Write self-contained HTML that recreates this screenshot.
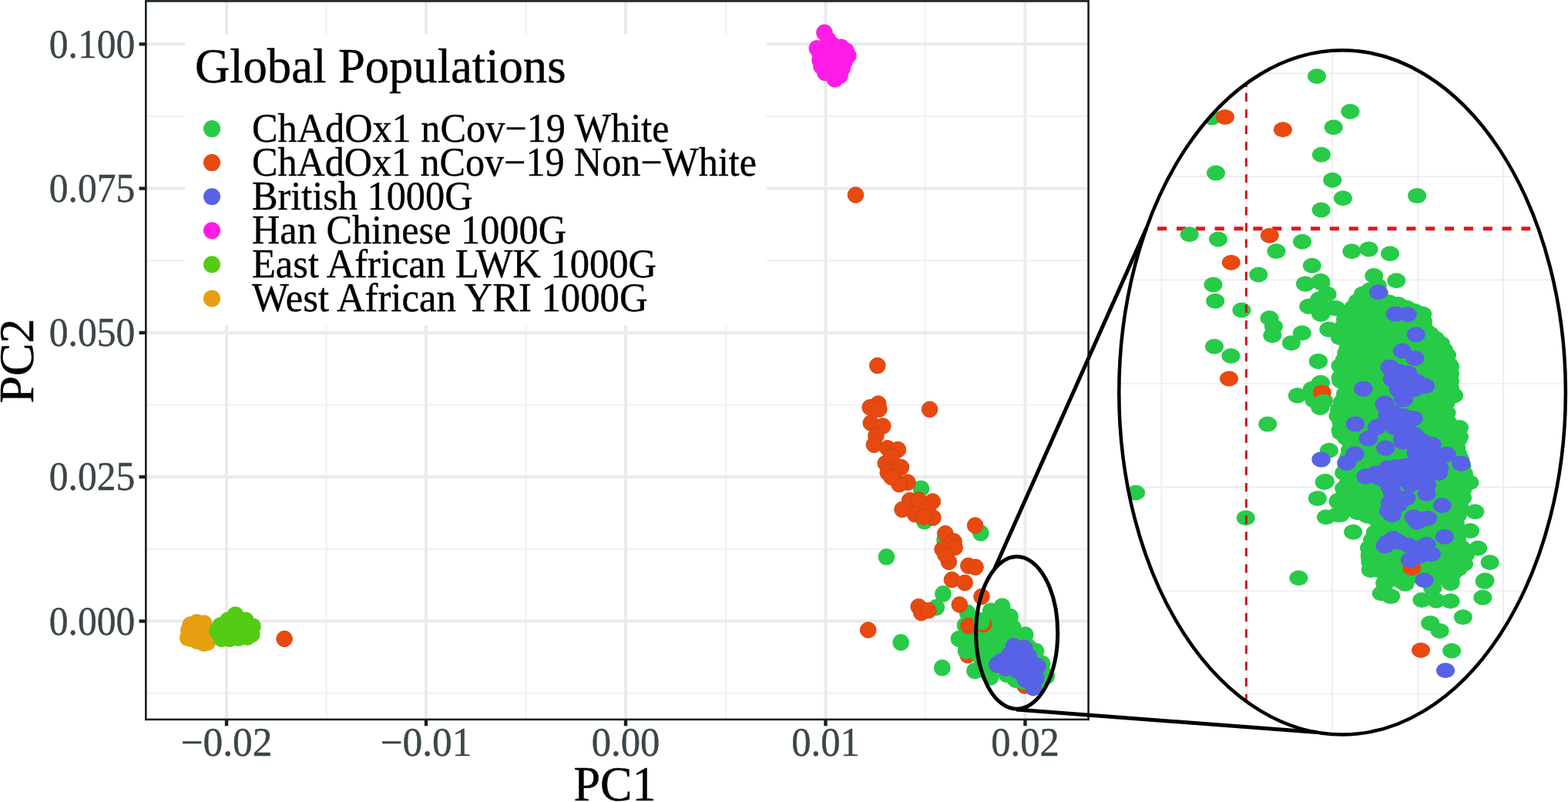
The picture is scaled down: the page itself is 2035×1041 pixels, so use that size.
<!DOCTYPE html>
<html lang="en"><head><meta charset="utf-8"><title>PCA of Global Populations</title>
<style>html,body{margin:0;padding:0;background:#fff}body{width:2035px;height:1041px;overflow:hidden}svg{display:block}text{font-family:"Liberation Serif","Times New Roman",serif;paint-order:stroke fill;stroke-linejoin:round}</style></head><body>
<svg width="2035" height="1041" viewBox="0 0 2035 1041">
<defs><clipPath id="panel"><rect x="189" y="1" width="1224" height="933"/></clipPath>
<clipPath id="lens"><ellipse cx="1742.1" cy="509.4" rx="289.8" ry="444.1"/></clipPath><clipPath id="lensin"><ellipse cx="1742.1" cy="509.4" rx="287" ry="440"/></clipPath></defs>
<rect width="2035" height="1041" fill="#fff"/>
<g clip-path="url(#panel)">
<line x1="423.5" y1="0" x2="423.5" y2="934" stroke="#f1f1f1" stroke-width="2.1"/>
<line x1="682.7" y1="0" x2="682.7" y2="934" stroke="#f1f1f1" stroke-width="2.1"/>
<line x1="942" y1="0" x2="942" y2="934" stroke="#f1f1f1" stroke-width="2.1"/>
<line x1="1201" y1="0" x2="1201" y2="934" stroke="#f1f1f1" stroke-width="2.1"/>
<line x1="189" y1="151" x2="1413" y2="151" stroke="#f1f1f1" stroke-width="2.1"/>
<line x1="189" y1="338.3" x2="1413" y2="338.3" stroke="#f1f1f1" stroke-width="2.1"/>
<line x1="189" y1="525.5" x2="1413" y2="525.5" stroke="#f1f1f1" stroke-width="2.1"/>
<line x1="189" y1="712.6" x2="1413" y2="712.6" stroke="#f1f1f1" stroke-width="2.1"/>
<line x1="189" y1="899.8" x2="1413" y2="899.8" stroke="#f1f1f1" stroke-width="2.1"/>
<line x1="294" y1="0" x2="294" y2="934" stroke="#ebebeb" stroke-width="4"/>
<line x1="553" y1="0" x2="553" y2="934" stroke="#ebebeb" stroke-width="4"/>
<line x1="812" y1="0" x2="812" y2="934" stroke="#ebebeb" stroke-width="4"/>
<line x1="1071.5" y1="0" x2="1071.5" y2="934" stroke="#ebebeb" stroke-width="4"/>
<line x1="1330.5" y1="0" x2="1330.5" y2="934" stroke="#ebebeb" stroke-width="4"/>
<line x1="189" y1="57.3" x2="1413" y2="57.3" stroke="#ebebeb" stroke-width="4"/>
<line x1="189" y1="244.6" x2="1413" y2="244.6" stroke="#ebebeb" stroke-width="4"/>
<line x1="189" y1="431.9" x2="1413" y2="431.9" stroke="#ebebeb" stroke-width="4"/>
<line x1="189" y1="619" x2="1413" y2="619" stroke="#ebebeb" stroke-width="4"/>
<line x1="189" y1="806.3" x2="1413" y2="806.3" stroke="#ebebeb" stroke-width="4"/>
<rect x="240" y="44.5" width="754.5" height="377.5" fill="#fff"/>
<g fill="#e6a00f"><circle cx="247.3" cy="810.7" r="10.8"/><circle cx="255.3" cy="807.8" r="10.8"/><circle cx="264.6" cy="809.0" r="10.8"/><circle cx="243.8" cy="828.0" r="10.8"/><circle cx="264.6" cy="835.0" r="10.8"/><circle cx="269.2" cy="833.8" r="10.8"/><circle cx="248.4" cy="829.2" r="10.8"/><circle cx="257.6" cy="821.1" r="10.8"/><circle cx="245.0" cy="818.0" r="10.8"/><circle cx="256.0" cy="832.0" r="10.8"/><circle cx="268.0" cy="821.0" r="10.8"/><circle cx="270.0" cy="827.0" r="10.8"/><circle cx="266.0" cy="815.0" r="10.8"/></g>
<g fill="#54cc14"><circle cx="305.5" cy="798.0" r="10.8"/><circle cx="281.8" cy="818.8" r="10.8"/><circle cx="287.6" cy="829.2" r="10.8"/><circle cx="292.2" cy="810.7" r="10.8"/><circle cx="318.7" cy="805.0" r="10.8"/><circle cx="328.0" cy="813.0" r="10.8"/><circle cx="326.8" cy="823.4" r="10.8"/><circle cx="309.5" cy="828.0" r="10.8"/><circle cx="298.0" cy="829.2" r="10.8"/><circle cx="321.0" cy="826.9" r="10.8"/><circle cx="303.7" cy="815.3" r="10.8"/><circle cx="315.0" cy="815.0" r="10.8"/><circle cx="286.0" cy="812.0" r="10.8"/><circle cx="296.0" cy="805.0" r="10.8"/><circle cx="312.0" cy="808.0" r="10.8"/><circle cx="322.0" cy="818.0" r="10.8"/><circle cx="300.0" cy="822.0" r="10.8"/></g>
<g fill="#e8490f" stroke="#cf430f" stroke-width="0.9"><circle cx="1330.0" cy="890.0" r="10.350000000000001"/><circle cx="1256.0" cy="850.5" r="10.350000000000001"/></g>
<g fill="#27cb48"><circle cx="1195.4" cy="634.2" r="10.8"/><circle cx="1199.7" cy="676.5" r="10.8"/><circle cx="1272.8" cy="691.8" r="10.8"/><circle cx="1150.5" cy="722.8" r="10.8"/><circle cx="1226.0" cy="701.0" r="10.8"/><circle cx="1223.9" cy="770.8" r="10.8"/><circle cx="1215.3" cy="788.4" r="10.8"/><circle cx="1169.2" cy="833.9" r="10.8"/><circle cx="1222.8" cy="866.8" r="10.8"/><circle cx="1255.6" cy="795.3" r="10.8"/><circle cx="1252.5" cy="811.5" r="10.8"/><circle cx="1244.5" cy="829.2" r="10.8"/><circle cx="1253.5" cy="844.5" r="10.8"/><circle cx="1265.0" cy="870.7" r="10.8"/><circle cx="1285.7" cy="878.8" r="10.8"/><circle cx="1280.0" cy="859.0" r="10.8"/><circle cx="1300.7" cy="787.0" r="10.8"/><circle cx="1285.7" cy="793.0" r="10.8"/><circle cx="1311.0" cy="800.4" r="10.8"/><circle cx="1330.7" cy="824.0" r="10.8"/><circle cx="1344.5" cy="845.3" r="10.8"/><circle cx="1352.6" cy="861.5" r="10.8"/><circle cx="1358.3" cy="877.6" r="10.8"/><circle cx="1346.8" cy="888.0" r="10.8"/><circle cx="1318.0" cy="882.2" r="10.8"/><circle cx="1306.5" cy="875.3" r="10.8"/><circle cx="1270.0" cy="805.0" r="10.8"/><circle cx="1285.0" cy="805.0" r="10.8"/><circle cx="1300.0" cy="805.0" r="10.8"/><circle cx="1270.0" cy="820.0" r="10.8"/><circle cx="1285.0" cy="820.0" r="10.8"/><circle cx="1300.0" cy="820.0" r="10.8"/><circle cx="1315.0" cy="815.0" r="10.8"/><circle cx="1265.0" cy="835.0" r="10.8"/><circle cx="1280.0" cy="835.0" r="10.8"/><circle cx="1295.0" cy="835.0" r="10.8"/><circle cx="1310.0" cy="830.0" r="10.8"/><circle cx="1270.0" cy="850.0" r="10.8"/><circle cx="1285.0" cy="850.0" r="10.8"/><circle cx="1300.0" cy="848.0" r="10.8"/><circle cx="1275.0" cy="862.0" r="10.8"/><circle cx="1290.0" cy="865.0" r="10.8"/><circle cx="1325.0" cy="832.0" r="10.8"/><circle cx="1335.0" cy="840.0" r="10.8"/><circle cx="1345.0" cy="870.0" r="10.8"/><circle cx="1330.0" cy="885.0" r="10.8"/><circle cx="1258.0" cy="825.0" r="10.8"/><circle cx="1262.0" cy="838.0" r="10.8"/><circle cx="1278.0" cy="870.0" r="10.8"/></g>
<g fill="#e8490f" stroke="#cf430f" stroke-width="0.9"><circle cx="1110.5" cy="253.0" r="10.350000000000001"/><circle cx="369.1" cy="829.2" r="10.350000000000001"/><circle cx="1138.8" cy="474.6" r="10.350000000000001"/><circle cx="1206.6" cy="531.4" r="10.350000000000001"/><circle cx="1139.8" cy="524.0" r="10.350000000000001"/><circle cx="1129.2" cy="528.8" r="10.350000000000001"/><circle cx="1140.9" cy="531.1" r="10.350000000000001"/><circle cx="1130.3" cy="549.0" r="10.350000000000001"/><circle cx="1145.8" cy="553.0" r="10.350000000000001"/><circle cx="1136.9" cy="565.7" r="10.350000000000001"/><circle cx="1134.4" cy="577.2" r="10.350000000000001"/><circle cx="1151.9" cy="581.8" r="10.350000000000001"/><circle cx="1165.4" cy="583.6" r="10.350000000000001"/><circle cx="1149.3" cy="601.4" r="10.350000000000001"/><circle cx="1169.5" cy="606.5" r="10.350000000000001"/><circle cx="1157.6" cy="592.2" r="10.350000000000001"/><circle cx="1152.2" cy="613.4" r="10.350000000000001"/><circle cx="1159.9" cy="618.0" r="10.350000000000001"/><circle cx="1178.0" cy="626.1" r="10.350000000000001"/><circle cx="1166.9" cy="628.6" r="10.350000000000001"/><circle cx="1156.8" cy="619.2" r="10.350000000000001"/><circle cx="1180.7" cy="649.5" r="10.350000000000001"/><circle cx="1192.2" cy="648.9" r="10.350000000000001"/><circle cx="1210.3" cy="650.9" r="10.350000000000001"/><circle cx="1171.0" cy="661.3" r="10.350000000000001"/><circle cx="1187.6" cy="667.6" r="10.350000000000001"/><circle cx="1210.9" cy="671.9" r="10.350000000000001"/><circle cx="1203.7" cy="660.7" r="10.350000000000001"/><circle cx="1198.0" cy="671.0" r="10.350000000000001"/><circle cx="1265.6" cy="682.0" r="10.350000000000001"/><circle cx="1226.8" cy="692.6" r="10.350000000000001"/><circle cx="1238.0" cy="702.7" r="10.350000000000001"/><circle cx="1239.1" cy="710.7" r="10.350000000000001"/><circle cx="1223.1" cy="713.0" r="10.350000000000001"/><circle cx="1231.4" cy="729.2" r="10.350000000000001"/><circle cx="1226.8" cy="720.0" r="10.350000000000001"/><circle cx="1256.8" cy="734.4" r="10.350000000000001"/><circle cx="1266.0" cy="736.1" r="10.350000000000001"/><circle cx="1235.4" cy="752.5" r="10.350000000000001"/><circle cx="1252.2" cy="756.4" r="10.350000000000001"/><circle cx="1274.0" cy="774.4" r="10.350000000000001"/><circle cx="1192.2" cy="787.5" r="10.350000000000001"/><circle cx="1195.7" cy="795.3" r="10.350000000000001"/><circle cx="1204.9" cy="792.4" r="10.350000000000001"/><circle cx="1245.3" cy="784.8" r="10.350000000000001"/><circle cx="1126.7" cy="817.8" r="10.350000000000001"/><circle cx="1276.6" cy="810.3" r="10.350000000000001"/><circle cx="1257.0" cy="812.5" r="10.350000000000001"/></g>
<g fill="#27cb48"><circle cx="1273.8" cy="806.8" r="10.8"/></g>
<g fill="#5862e6"><circle cx="1315.7" cy="838.8" r="10.8"/><circle cx="1329.5" cy="841.3" r="10.8"/><circle cx="1293.8" cy="862.6" r="10.8"/><circle cx="1335.3" cy="852.2" r="10.8"/><circle cx="1346.8" cy="864.9" r="10.8"/><circle cx="1320.3" cy="870.7" r="10.8"/><circle cx="1337.6" cy="877.6" r="10.8"/><circle cx="1341.0" cy="892.6" r="10.8"/><circle cx="1307.6" cy="859.2" r="10.8"/><circle cx="1323.7" cy="854.6" r="10.8"/><circle cx="1330.7" cy="882.2" r="10.8"/><circle cx="1305.0" cy="867.0" r="10.8"/><circle cx="1320.0" cy="860.0" r="10.8"/><circle cx="1333.0" cy="866.0" r="10.8"/><circle cx="1310.0" cy="850.0" r="10.8"/><circle cx="1322.0" cy="846.0" r="10.8"/><circle cx="1345.0" cy="880.0" r="10.8"/><circle cx="1300.0" cy="858.0" r="10.8"/><circle cx="1315.0" cy="864.0" r="10.8"/><circle cx="1328.0" cy="872.0" r="10.8"/><circle cx="1338.0" cy="886.0" r="10.8"/></g>
<g fill="#ff1ce6"><circle cx="1070.0" cy="42.3" r="10.8"/><circle cx="1060.4" cy="62.7" r="10.8"/><circle cx="1091.7" cy="61.2" r="10.8"/><circle cx="1100.8" cy="72.2" r="10.8"/><circle cx="1064.1" cy="78.1" r="10.8"/><circle cx="1083.6" cy="102.8" r="10.8"/><circle cx="1071.0" cy="94.4" r="10.8"/><circle cx="1093.1" cy="88.5" r="10.8"/><circle cx="1077.0" cy="73.7" r="10.8"/><circle cx="1080.0" cy="58.0" r="10.8"/><circle cx="1088.0" cy="78.0" r="10.8"/><circle cx="1076.0" cy="88.0" r="10.8"/><circle cx="1068.0" cy="70.0" r="10.8"/><circle cx="1096.0" cy="80.0" r="10.8"/><circle cx="1085.0" cy="95.0" r="10.8"/><circle cx="1075.0" cy="52.0" r="10.8"/><circle cx="1098.0" cy="66.0" r="10.8"/><circle cx="1066.0" cy="86.0" r="10.8"/><circle cx="1090.0" cy="98.0" r="10.8"/><circle cx="1064.0" cy="70.0" r="10.8"/></g>
</g>
<rect x="189.3" y="1.4" width="1223.3" height="932.5" fill="none" stroke="#172021" stroke-width="2.6"/>
<line x1="180.5" y1="57.3" x2="189" y2="57.3" stroke="#172021" stroke-width="4.4"/>
<line x1="180.5" y1="244.6" x2="189" y2="244.6" stroke="#172021" stroke-width="4.4"/>
<line x1="180.5" y1="431.9" x2="189" y2="431.9" stroke="#172021" stroke-width="4.4"/>
<line x1="180.5" y1="619" x2="189" y2="619" stroke="#172021" stroke-width="4.4"/>
<line x1="180.5" y1="806.3" x2="189" y2="806.3" stroke="#172021" stroke-width="4.4"/>
<line x1="294" y1="934" x2="294" y2="942.3" stroke="#172021" stroke-width="4.4"/>
<line x1="553" y1="934" x2="553" y2="942.3" stroke="#172021" stroke-width="4.4"/>
<line x1="812" y1="934" x2="812" y2="942.3" stroke="#172021" stroke-width="4.4"/>
<line x1="1071.5" y1="934" x2="1071.5" y2="942.3" stroke="#172021" stroke-width="4.4"/>
<line x1="1330.5" y1="934" x2="1330.5" y2="942.3" stroke="#172021" stroke-width="4.4"/>
<text x="175.2" y="74.6" font-size="52.5" text-anchor="end" textLength="111.4" lengthAdjust="spacingAndGlyphs" fill="#3c4649" stroke="#3c4649" stroke-width="0.4">0.100</text>
<text x="175.2" y="261.9" font-size="52.5" text-anchor="end" textLength="111.4" lengthAdjust="spacingAndGlyphs" fill="#3c4649" stroke="#3c4649" stroke-width="0.4">0.075</text>
<text x="175.2" y="449.2" font-size="52.5" text-anchor="end" textLength="111.4" lengthAdjust="spacingAndGlyphs" fill="#3c4649" stroke="#3c4649" stroke-width="0.4">0.050</text>
<text x="175.2" y="636.3" font-size="52.5" text-anchor="end" textLength="111.4" lengthAdjust="spacingAndGlyphs" fill="#3c4649" stroke="#3c4649" stroke-width="0.4">0.025</text>
<text x="175.2" y="823.6" font-size="52.5" text-anchor="end" textLength="111.4" lengthAdjust="spacingAndGlyphs" fill="#3c4649" stroke="#3c4649" stroke-width="0.4">0.000</text>
<text x="294" y="981.2" font-size="52" text-anchor="middle" textLength="119.0" lengthAdjust="spacingAndGlyphs" fill="#3c4649" stroke="#3c4649" stroke-width="0.4">−0.02</text>
<text x="553" y="981.2" font-size="52" text-anchor="middle" textLength="119.0" lengthAdjust="spacingAndGlyphs" fill="#3c4649" stroke="#3c4649" stroke-width="0.4">−0.01</text>
<text x="812" y="981.2" font-size="52" text-anchor="middle" textLength="88.7" lengthAdjust="spacingAndGlyphs" fill="#3c4649" stroke="#3c4649" stroke-width="0.4">0.00</text>
<text x="1071.5" y="981.2" font-size="52" text-anchor="middle" textLength="88.7" lengthAdjust="spacingAndGlyphs" fill="#3c4649" stroke="#3c4649" stroke-width="0.4">0.01</text>
<text x="1330.5" y="981.2" font-size="52" text-anchor="middle" textLength="88.7" lengthAdjust="spacingAndGlyphs" fill="#3c4649" stroke="#3c4649" stroke-width="0.4">0.02</text>
<text x="798" y="1039.2" font-size="63" text-anchor="middle" textLength="107.0" lengthAdjust="spacingAndGlyphs" fill="#000" stroke="#000" stroke-width="0.5">PC1</text>
<g transform="translate(43,468.5) rotate(-90)">
<text x="0" y="0.0" font-size="63" text-anchor="middle" textLength="110.0" lengthAdjust="spacingAndGlyphs" fill="#000" stroke="#000" stroke-width="0.5">PC2</text>
</g>
<text x="253" y="107.0" font-size="64" text-anchor="start" textLength="481.5" lengthAdjust="spacingAndGlyphs" fill="#000" stroke="#000" stroke-width="0.5">Global Populations</text>
<circle cx="275" cy="167.1" r="11" fill="#27cb48"/>
<text x="327" y="183.9" font-size="52" text-anchor="start" textLength="541.5" lengthAdjust="spacingAndGlyphs" fill="#000" stroke="#000" stroke-width="0.4">ChAdOx1 nCov−19 White</text>
<circle cx="275" cy="211.1" r="11" fill="#e8490f"/>
<text x="327" y="227.9" font-size="52" text-anchor="start" textLength="655.0" lengthAdjust="spacingAndGlyphs" fill="#000" stroke="#000" stroke-width="0.4">ChAdOx1 nCov−19 Non−White</text>
<circle cx="275" cy="255.2" r="11" fill="#5862e6"/>
<text x="327" y="272.0" font-size="52" text-anchor="start" textLength="286.5" lengthAdjust="spacingAndGlyphs" fill="#000" stroke="#000" stroke-width="0.4">British 1000G</text>
<circle cx="275" cy="299.2" r="11" fill="#ff1ce6"/>
<text x="327" y="316.1" font-size="52" text-anchor="start" textLength="408.0" lengthAdjust="spacingAndGlyphs" fill="#000" stroke="#000" stroke-width="0.4">Han Chinese 1000G</text>
<circle cx="275" cy="343.3" r="11" fill="#54cc14"/>
<text x="327" y="360.1" font-size="52" text-anchor="start" textLength="525.0" lengthAdjust="spacingAndGlyphs" fill="#000" stroke="#000" stroke-width="0.4">East African LWK 1000G</text>
<circle cx="275" cy="387.4" r="11" fill="#e6a00f"/>
<text x="327" y="404.2" font-size="52" text-anchor="start" textLength="513.5" lengthAdjust="spacingAndGlyphs" fill="#000" stroke="#000" stroke-width="0.4">West African YRI 1000G</text>
<g clip-path="url(#lens)">
<rect x="1440" y="50" width="600" height="920" fill="#fff"/>
<g clip-path="url(#lensin)" stroke="#ebecec" stroke-width="1.7">
<line x1="1507.4" y1="50" x2="1507.4" y2="970"/>
<line x1="1618.3" y1="50" x2="1618.3" y2="970"/>
<line x1="1729.2" y1="50" x2="1729.2" y2="970"/>
<line x1="1840.2" y1="50" x2="1840.2" y2="970"/>
<line x1="1951.2" y1="50" x2="1951.2" y2="970"/>
<line x1="1440" y1="95.1" x2="2040" y2="95.1"/>
<line x1="1440" y1="229.2" x2="2040" y2="229.2"/>
<line x1="1440" y1="363.3" x2="2040" y2="363.3"/>
<line x1="1440" y1="498" x2="2040" y2="498"/>
<line x1="1440" y1="632.3" x2="2040" y2="632.3"/>
<line x1="1440" y1="767" x2="2040" y2="767"/>
<line x1="1440" y1="900.5" x2="2040" y2="900.5"/>
</g>
<line x1="1502.1" y1="296.7" x2="1986.2" y2="296.7" stroke="#e3141e" stroke-width="5" stroke-dasharray="12.1 12.76"/>
<g fill="#e8490f"></g>
<g fill="#27cb48"><ellipse cx="1709.0" cy="99.0" rx="12" ry="10"/><ellipse cx="1752.4" cy="144.8" rx="12" ry="10"/><ellipse cx="1730.7" cy="165.3" rx="12" ry="10"/><ellipse cx="1714.9" cy="200.8" rx="12" ry="10"/><ellipse cx="1578.0" cy="224.6" rx="12" ry="10"/><ellipse cx="1729.2" cy="233.8" rx="12" ry="10"/><ellipse cx="1742.9" cy="257.3" rx="12" ry="10"/><ellipse cx="1839.1" cy="254.1" rx="12" ry="10"/><ellipse cx="1714.6" cy="272.5" rx="12" ry="10"/><ellipse cx="1572.9" cy="152.5" rx="12" ry="10"/><ellipse cx="1543.7" cy="304.3" rx="12" ry="10"/><ellipse cx="1581.0" cy="310.5" rx="12" ry="10"/><ellipse cx="1690.0" cy="313.8" rx="12" ry="10"/><ellipse cx="1656.4" cy="326.1" rx="12" ry="10"/><ellipse cx="1754.3" cy="326.3" rx="12" ry="10"/><ellipse cx="1776.4" cy="323.4" rx="12" ry="10"/><ellipse cx="1804.0" cy="329.2" rx="12" ry="10"/><ellipse cx="1702.8" cy="344.7" rx="12" ry="10"/><ellipse cx="1633.3" cy="356.5" rx="12" ry="10"/><ellipse cx="1783.2" cy="358.0" rx="12" ry="10"/><ellipse cx="1574.5" cy="369.5" rx="12" ry="10"/><ellipse cx="1577.2" cy="390.7" rx="12" ry="10"/><ellipse cx="1611.4" cy="402.5" rx="12" ry="10"/><ellipse cx="1694.1" cy="368.4" rx="12" ry="10"/><ellipse cx="1714.4" cy="366.9" rx="12" ry="10"/><ellipse cx="1722.0" cy="381.5" rx="12" ry="10"/><ellipse cx="1711.3" cy="390.7" rx="12" ry="10"/><ellipse cx="1699.0" cy="397.6" rx="12" ry="10"/><ellipse cx="1714.4" cy="407.6" rx="12" ry="10"/><ellipse cx="1731.3" cy="399.9" rx="12" ry="10"/><ellipse cx="1647.5" cy="413.0" rx="12" ry="10"/><ellipse cx="1652.9" cy="423.7" rx="12" ry="10"/><ellipse cx="1651.3" cy="435.3" rx="12" ry="10"/><ellipse cx="1689.8" cy="432.2" rx="12" ry="10"/><ellipse cx="1675.9" cy="445.3" rx="12" ry="10"/><ellipse cx="1724.3" cy="427.6" rx="12" ry="10"/><ellipse cx="1576.0" cy="449.8" rx="12" ry="10"/><ellipse cx="1597.5" cy="462.0" rx="12" ry="10"/><ellipse cx="1739.0" cy="438.3" rx="12" ry="10"/><ellipse cx="1812.2" cy="364.2" rx="12" ry="10"/><ellipse cx="1787.6" cy="370.7" rx="12" ry="10"/><ellipse cx="1814.5" cy="395.3" rx="12" ry="10"/><ellipse cx="1846.0" cy="407.6" rx="12" ry="10"/><ellipse cx="1847.6" cy="426.0" rx="12" ry="10"/><ellipse cx="1769.2" cy="381.5" rx="12" ry="10"/><ellipse cx="1762.3" cy="390.7" rx="12" ry="10"/><ellipse cx="1787.6" cy="395.3" rx="12" ry="10"/><ellipse cx="1733.8" cy="399.9" rx="12" ry="10"/><ellipse cx="1867.6" cy="446.0" rx="12" ry="10"/><ellipse cx="1875.2" cy="458.3" rx="12" ry="10"/><ellipse cx="1741.5" cy="438.3" rx="12" ry="10"/><ellipse cx="1749.2" cy="453.7" rx="12" ry="10"/><ellipse cx="1711.0" cy="468.9" rx="12" ry="10"/><ellipse cx="1645.2" cy="550.6" rx="12" ry="10"/><ellipse cx="1683.9" cy="513.5" rx="12" ry="10"/><ellipse cx="1702.4" cy="507.3" rx="12" ry="10"/><ellipse cx="1713.3" cy="498.0" rx="12" ry="10"/><ellipse cx="1705.5" cy="519.7" rx="12" ry="10"/><ellipse cx="1713.3" cy="528.9" rx="12" ry="10"/><ellipse cx="1739.6" cy="474.8" rx="12" ry="10"/><ellipse cx="1739.6" cy="490.2" rx="12" ry="10"/><ellipse cx="1736.5" cy="539.8" rx="12" ry="10"/><ellipse cx="1739.6" cy="558.4" rx="12" ry="10"/><ellipse cx="1724.9" cy="584.7" rx="12" ry="10"/><ellipse cx="1474.1" cy="639.5" rx="12" ry="10"/><ellipse cx="1616.8" cy="672.3" rx="12" ry="10"/><ellipse cx="1685.4" cy="750.2" rx="12" ry="10"/><ellipse cx="1718.7" cy="625.9" rx="12" ry="10"/><ellipse cx="1709.9" cy="646.9" rx="12" ry="10"/><ellipse cx="1721.0" cy="671.2" rx="12" ry="10"/><ellipse cx="1736.5" cy="651.1" rx="12" ry="10"/><ellipse cx="1739.6" cy="668.1" rx="12" ry="10"/><ellipse cx="1744.2" cy="613.9" rx="12" ry="10"/><ellipse cx="1744.2" cy="634.0" rx="12" ry="10"/><ellipse cx="1756.1" cy="690.6" rx="12" ry="10"/><ellipse cx="1907.3" cy="626.3" rx="12" ry="10"/><ellipse cx="1914.3" cy="664.2" rx="12" ry="10"/><ellipse cx="1908.1" cy="689.0" rx="12" ry="10"/><ellipse cx="1918.1" cy="711.5" rx="12" ry="10"/><ellipse cx="1933.6" cy="730.0" rx="12" ry="10"/><ellipse cx="1927.4" cy="753.3" rx="12" ry="10"/><ellipse cx="1882.5" cy="754.8" rx="12" ry="10"/><ellipse cx="1797.4" cy="756.3" rx="12" ry="10"/><ellipse cx="1778.8" cy="739.3" rx="12" ry="10"/><ellipse cx="1777.3" cy="711.5" rx="12" ry="10"/><ellipse cx="1785.0" cy="691.3" rx="12" ry="10"/><ellipse cx="1786.6" cy="674.3" rx="12" ry="10"/><ellipse cx="1761.8" cy="665.0" rx="12" ry="10"/><ellipse cx="1737.0" cy="649.5" rx="12" ry="10"/><ellipse cx="1735.5" cy="668.1" rx="12" ry="10"/><ellipse cx="1720.0" cy="624.8" rx="12" ry="10"/><ellipse cx="1746.3" cy="634.1" rx="12" ry="10"/><ellipse cx="1746.3" cy="612.4" rx="12" ry="10"/><ellipse cx="1819.0" cy="754.8" rx="12" ry="10"/><ellipse cx="1802.0" cy="739.3" rx="12" ry="10"/><ellipse cx="1890.3" cy="726.9" rx="12" ry="10"/><ellipse cx="1901.1" cy="714.5" rx="12" ry="10"/><ellipse cx="1890.3" cy="669.7" rx="12" ry="10"/><ellipse cx="1898.0" cy="646.4" rx="12" ry="10"/><ellipse cx="1890.3" cy="623.2" rx="12" ry="10"/><ellipse cx="1926.7" cy="754.7" rx="12" ry="10"/><ellipse cx="1924.3" cy="775.6" rx="12" ry="10"/><ellipse cx="1882.5" cy="757.0" rx="12" ry="10"/><ellipse cx="1797.4" cy="757.8" rx="12" ry="10"/><ellipse cx="1823.7" cy="757.8" rx="12" ry="10"/><ellipse cx="1792.8" cy="770.2" rx="12" ry="10"/><ellipse cx="1805.1" cy="774.1" rx="12" ry="10"/><ellipse cx="1845.4" cy="778.7" rx="12" ry="10"/><ellipse cx="1864.0" cy="779.5" rx="12" ry="10"/><ellipse cx="1882.5" cy="780.2" rx="12" ry="10"/><ellipse cx="1859.3" cy="763.2" rx="12" ry="10"/><ellipse cx="1867.1" cy="749.3" rx="12" ry="10"/><ellipse cx="1898.8" cy="801.1" rx="12" ry="10"/><ellipse cx="1856.2" cy="808.9" rx="12" ry="10"/><ellipse cx="1868.6" cy="818.9" rx="12" ry="10"/><ellipse cx="1884.1" cy="844.8" rx="12" ry="10"/><ellipse cx="1778.8" cy="740.0" rx="12" ry="10"/><ellipse cx="1802.0" cy="738.5" rx="12" ry="10"/><ellipse cx="1874.8" cy="459.3" rx="12" ry="10"/><ellipse cx="1881.0" cy="479.4" rx="12" ry="10"/><ellipse cx="1881.0" cy="502.6" rx="12" ry="10"/><ellipse cx="1886.9" cy="513.5" rx="12" ry="10"/><ellipse cx="1874.8" cy="524.3" rx="12" ry="10"/><ellipse cx="1877.9" cy="547.5" rx="12" ry="10"/><ellipse cx="1892.6" cy="555.3" rx="12" ry="10"/><ellipse cx="1893.4" cy="567.6" rx="12" ry="10"/><ellipse cx="1890.3" cy="581.6" rx="12" ry="10"/><ellipse cx="1894.9" cy="595.5" rx="12" ry="10"/><ellipse cx="1880.6" cy="473.2" rx="12" ry="10"/><ellipse cx="1880.6" cy="482.7" rx="12" ry="10"/><ellipse cx="1880.6" cy="504.7" rx="12" ry="10"/><ellipse cx="1844.4" cy="407.2" rx="12" ry="10"/><ellipse cx="1813.8" cy="395.4" rx="12" ry="10"/><ellipse cx="1724.9" cy="427.6" rx="12" ry="10"/><ellipse cx="1710.8" cy="469.0" rx="12" ry="10"/><ellipse cx="1713.9" cy="496.8" rx="12" ry="10"/><ellipse cx="1702.9" cy="504.7" rx="12" ry="10"/><ellipse cx="1684.0" cy="513.3" rx="12" ry="10"/><ellipse cx="1698.2" cy="397.7" rx="12" ry="10"/><ellipse cx="1732.8" cy="400.1" rx="12" ry="10"/><ellipse cx="1713.9" cy="407.2" rx="12" ry="10"/><ellipse cx="1712.3" cy="388.3" rx="12" ry="10"/><ellipse cx="1722.6" cy="382.0" rx="12" ry="10"/><ellipse cx="1694.3" cy="368.6" rx="12" ry="10"/><ellipse cx="1713.9" cy="364.7" rx="12" ry="10"/><ellipse cx="1717.9" cy="519.7" rx="12" ry="10"/><ellipse cx="1778.0" cy="382.0" rx="12" ry="10"/><ellipse cx="1790.0" cy="382.0" rx="12" ry="10"/><ellipse cx="1772.0" cy="391.0" rx="12" ry="10"/><ellipse cx="1784.0" cy="391.0" rx="12" ry="10"/><ellipse cx="1796.0" cy="391.0" rx="12" ry="10"/><ellipse cx="1766.0" cy="400.0" rx="12" ry="10"/><ellipse cx="1778.0" cy="400.0" rx="12" ry="10"/><ellipse cx="1790.0" cy="400.0" rx="12" ry="10"/><ellipse cx="1802.0" cy="400.0" rx="12" ry="10"/><ellipse cx="1814.0" cy="400.0" rx="12" ry="10"/><ellipse cx="1826.0" cy="400.0" rx="12" ry="10"/><ellipse cx="1760.0" cy="409.0" rx="12" ry="10"/><ellipse cx="1772.0" cy="409.0" rx="12" ry="10"/><ellipse cx="1784.0" cy="409.0" rx="12" ry="10"/><ellipse cx="1796.0" cy="409.0" rx="12" ry="10"/><ellipse cx="1808.0" cy="409.0" rx="12" ry="10"/><ellipse cx="1820.0" cy="409.0" rx="12" ry="10"/><ellipse cx="1832.0" cy="409.0" rx="12" ry="10"/><ellipse cx="1844.0" cy="409.0" rx="12" ry="10"/><ellipse cx="1754.0" cy="418.0" rx="12" ry="10"/><ellipse cx="1766.0" cy="418.0" rx="12" ry="10"/><ellipse cx="1778.0" cy="418.0" rx="12" ry="10"/><ellipse cx="1790.0" cy="418.0" rx="12" ry="10"/><ellipse cx="1802.0" cy="418.0" rx="12" ry="10"/><ellipse cx="1814.0" cy="418.0" rx="12" ry="10"/><ellipse cx="1826.0" cy="418.0" rx="12" ry="10"/><ellipse cx="1838.0" cy="418.0" rx="12" ry="10"/><ellipse cx="1748.0" cy="427.0" rx="12" ry="10"/><ellipse cx="1760.0" cy="427.0" rx="12" ry="10"/><ellipse cx="1772.0" cy="427.0" rx="12" ry="10"/><ellipse cx="1784.0" cy="427.0" rx="12" ry="10"/><ellipse cx="1796.0" cy="427.0" rx="12" ry="10"/><ellipse cx="1808.0" cy="427.0" rx="12" ry="10"/><ellipse cx="1820.0" cy="427.0" rx="12" ry="10"/><ellipse cx="1832.0" cy="427.0" rx="12" ry="10"/><ellipse cx="1844.0" cy="427.0" rx="12" ry="10"/><ellipse cx="1754.0" cy="436.0" rx="12" ry="10"/><ellipse cx="1766.0" cy="436.0" rx="12" ry="10"/><ellipse cx="1778.0" cy="436.0" rx="12" ry="10"/><ellipse cx="1790.0" cy="436.0" rx="12" ry="10"/><ellipse cx="1802.0" cy="436.0" rx="12" ry="10"/><ellipse cx="1814.0" cy="436.0" rx="12" ry="10"/><ellipse cx="1826.0" cy="436.0" rx="12" ry="10"/><ellipse cx="1838.0" cy="436.0" rx="12" ry="10"/><ellipse cx="1850.0" cy="436.0" rx="12" ry="10"/><ellipse cx="1760.0" cy="445.0" rx="12" ry="10"/><ellipse cx="1772.0" cy="445.0" rx="12" ry="10"/><ellipse cx="1784.0" cy="445.0" rx="12" ry="10"/><ellipse cx="1796.0" cy="445.0" rx="12" ry="10"/><ellipse cx="1808.0" cy="445.0" rx="12" ry="10"/><ellipse cx="1820.0" cy="445.0" rx="12" ry="10"/><ellipse cx="1832.0" cy="445.0" rx="12" ry="10"/><ellipse cx="1844.0" cy="445.0" rx="12" ry="10"/><ellipse cx="1856.0" cy="445.0" rx="12" ry="10"/><ellipse cx="1868.0" cy="445.0" rx="12" ry="10"/><ellipse cx="1754.0" cy="454.0" rx="12" ry="10"/><ellipse cx="1766.0" cy="454.0" rx="12" ry="10"/><ellipse cx="1778.0" cy="454.0" rx="12" ry="10"/><ellipse cx="1790.0" cy="454.0" rx="12" ry="10"/><ellipse cx="1802.0" cy="454.0" rx="12" ry="10"/><ellipse cx="1814.0" cy="454.0" rx="12" ry="10"/><ellipse cx="1826.0" cy="454.0" rx="12" ry="10"/><ellipse cx="1838.0" cy="454.0" rx="12" ry="10"/><ellipse cx="1850.0" cy="454.0" rx="12" ry="10"/><ellipse cx="1862.0" cy="454.0" rx="12" ry="10"/><ellipse cx="1874.0" cy="454.0" rx="12" ry="10"/><ellipse cx="1748.0" cy="463.0" rx="12" ry="10"/><ellipse cx="1760.0" cy="463.0" rx="12" ry="10"/><ellipse cx="1772.0" cy="463.0" rx="12" ry="10"/><ellipse cx="1784.0" cy="463.0" rx="12" ry="10"/><ellipse cx="1796.0" cy="463.0" rx="12" ry="10"/><ellipse cx="1808.0" cy="463.0" rx="12" ry="10"/><ellipse cx="1820.0" cy="463.0" rx="12" ry="10"/><ellipse cx="1832.0" cy="463.0" rx="12" ry="10"/><ellipse cx="1844.0" cy="463.0" rx="12" ry="10"/><ellipse cx="1856.0" cy="463.0" rx="12" ry="10"/><ellipse cx="1868.0" cy="463.0" rx="12" ry="10"/><ellipse cx="1754.0" cy="472.0" rx="12" ry="10"/><ellipse cx="1766.0" cy="472.0" rx="12" ry="10"/><ellipse cx="1778.0" cy="472.0" rx="12" ry="10"/><ellipse cx="1790.0" cy="472.0" rx="12" ry="10"/><ellipse cx="1802.0" cy="472.0" rx="12" ry="10"/><ellipse cx="1814.0" cy="472.0" rx="12" ry="10"/><ellipse cx="1826.0" cy="472.0" rx="12" ry="10"/><ellipse cx="1838.0" cy="472.0" rx="12" ry="10"/><ellipse cx="1850.0" cy="472.0" rx="12" ry="10"/><ellipse cx="1862.0" cy="472.0" rx="12" ry="10"/><ellipse cx="1874.0" cy="472.0" rx="12" ry="10"/><ellipse cx="1748.0" cy="481.0" rx="12" ry="10"/><ellipse cx="1760.0" cy="481.0" rx="12" ry="10"/><ellipse cx="1772.0" cy="481.0" rx="12" ry="10"/><ellipse cx="1784.0" cy="481.0" rx="12" ry="10"/><ellipse cx="1796.0" cy="481.0" rx="12" ry="10"/><ellipse cx="1808.0" cy="481.0" rx="12" ry="10"/><ellipse cx="1820.0" cy="481.0" rx="12" ry="10"/><ellipse cx="1832.0" cy="481.0" rx="12" ry="10"/><ellipse cx="1844.0" cy="481.0" rx="12" ry="10"/><ellipse cx="1856.0" cy="481.0" rx="12" ry="10"/><ellipse cx="1868.0" cy="481.0" rx="12" ry="10"/><ellipse cx="1880.0" cy="481.0" rx="12" ry="10"/><ellipse cx="1742.0" cy="490.0" rx="12" ry="10"/><ellipse cx="1754.0" cy="490.0" rx="12" ry="10"/><ellipse cx="1766.0" cy="490.0" rx="12" ry="10"/><ellipse cx="1778.0" cy="490.0" rx="12" ry="10"/><ellipse cx="1790.0" cy="490.0" rx="12" ry="10"/><ellipse cx="1802.0" cy="490.0" rx="12" ry="10"/><ellipse cx="1814.0" cy="490.0" rx="12" ry="10"/><ellipse cx="1826.0" cy="490.0" rx="12" ry="10"/><ellipse cx="1838.0" cy="490.0" rx="12" ry="10"/><ellipse cx="1850.0" cy="490.0" rx="12" ry="10"/><ellipse cx="1862.0" cy="490.0" rx="12" ry="10"/><ellipse cx="1874.0" cy="490.0" rx="12" ry="10"/><ellipse cx="1748.0" cy="499.0" rx="12" ry="10"/><ellipse cx="1760.0" cy="499.0" rx="12" ry="10"/><ellipse cx="1772.0" cy="499.0" rx="12" ry="10"/><ellipse cx="1784.0" cy="499.0" rx="12" ry="10"/><ellipse cx="1796.0" cy="499.0" rx="12" ry="10"/><ellipse cx="1808.0" cy="499.0" rx="12" ry="10"/><ellipse cx="1820.0" cy="499.0" rx="12" ry="10"/><ellipse cx="1832.0" cy="499.0" rx="12" ry="10"/><ellipse cx="1844.0" cy="499.0" rx="12" ry="10"/><ellipse cx="1856.0" cy="499.0" rx="12" ry="10"/><ellipse cx="1868.0" cy="499.0" rx="12" ry="10"/><ellipse cx="1880.0" cy="499.0" rx="12" ry="10"/><ellipse cx="1754.0" cy="508.0" rx="12" ry="10"/><ellipse cx="1766.0" cy="508.0" rx="12" ry="10"/><ellipse cx="1778.0" cy="508.0" rx="12" ry="10"/><ellipse cx="1790.0" cy="508.0" rx="12" ry="10"/><ellipse cx="1802.0" cy="508.0" rx="12" ry="10"/><ellipse cx="1814.0" cy="508.0" rx="12" ry="10"/><ellipse cx="1826.0" cy="508.0" rx="12" ry="10"/><ellipse cx="1838.0" cy="508.0" rx="12" ry="10"/><ellipse cx="1850.0" cy="508.0" rx="12" ry="10"/><ellipse cx="1862.0" cy="508.0" rx="12" ry="10"/><ellipse cx="1874.0" cy="508.0" rx="12" ry="10"/><ellipse cx="1748.0" cy="517.0" rx="12" ry="10"/><ellipse cx="1760.0" cy="517.0" rx="12" ry="10"/><ellipse cx="1772.0" cy="517.0" rx="12" ry="10"/><ellipse cx="1784.0" cy="517.0" rx="12" ry="10"/><ellipse cx="1796.0" cy="517.0" rx="12" ry="10"/><ellipse cx="1808.0" cy="517.0" rx="12" ry="10"/><ellipse cx="1820.0" cy="517.0" rx="12" ry="10"/><ellipse cx="1832.0" cy="517.0" rx="12" ry="10"/><ellipse cx="1844.0" cy="517.0" rx="12" ry="10"/><ellipse cx="1856.0" cy="517.0" rx="12" ry="10"/><ellipse cx="1868.0" cy="517.0" rx="12" ry="10"/><ellipse cx="1880.0" cy="517.0" rx="12" ry="10"/><ellipse cx="1742.0" cy="526.0" rx="12" ry="10"/><ellipse cx="1754.0" cy="526.0" rx="12" ry="10"/><ellipse cx="1766.0" cy="526.0" rx="12" ry="10"/><ellipse cx="1778.0" cy="526.0" rx="12" ry="10"/><ellipse cx="1790.0" cy="526.0" rx="12" ry="10"/><ellipse cx="1802.0" cy="526.0" rx="12" ry="10"/><ellipse cx="1814.0" cy="526.0" rx="12" ry="10"/><ellipse cx="1826.0" cy="526.0" rx="12" ry="10"/><ellipse cx="1838.0" cy="526.0" rx="12" ry="10"/><ellipse cx="1850.0" cy="526.0" rx="12" ry="10"/><ellipse cx="1862.0" cy="526.0" rx="12" ry="10"/><ellipse cx="1874.0" cy="526.0" rx="12" ry="10"/><ellipse cx="1748.0" cy="535.0" rx="12" ry="10"/><ellipse cx="1760.0" cy="535.0" rx="12" ry="10"/><ellipse cx="1772.0" cy="535.0" rx="12" ry="10"/><ellipse cx="1784.0" cy="535.0" rx="12" ry="10"/><ellipse cx="1796.0" cy="535.0" rx="12" ry="10"/><ellipse cx="1808.0" cy="535.0" rx="12" ry="10"/><ellipse cx="1820.0" cy="535.0" rx="12" ry="10"/><ellipse cx="1832.0" cy="535.0" rx="12" ry="10"/><ellipse cx="1844.0" cy="535.0" rx="12" ry="10"/><ellipse cx="1856.0" cy="535.0" rx="12" ry="10"/><ellipse cx="1868.0" cy="535.0" rx="12" ry="10"/><ellipse cx="1742.0" cy="544.0" rx="12" ry="10"/><ellipse cx="1754.0" cy="544.0" rx="12" ry="10"/><ellipse cx="1766.0" cy="544.0" rx="12" ry="10"/><ellipse cx="1778.0" cy="544.0" rx="12" ry="10"/><ellipse cx="1790.0" cy="544.0" rx="12" ry="10"/><ellipse cx="1802.0" cy="544.0" rx="12" ry="10"/><ellipse cx="1814.0" cy="544.0" rx="12" ry="10"/><ellipse cx="1826.0" cy="544.0" rx="12" ry="10"/><ellipse cx="1838.0" cy="544.0" rx="12" ry="10"/><ellipse cx="1850.0" cy="544.0" rx="12" ry="10"/><ellipse cx="1862.0" cy="544.0" rx="12" ry="10"/><ellipse cx="1874.0" cy="544.0" rx="12" ry="10"/><ellipse cx="1748.0" cy="553.0" rx="12" ry="10"/><ellipse cx="1760.0" cy="553.0" rx="12" ry="10"/><ellipse cx="1772.0" cy="553.0" rx="12" ry="10"/><ellipse cx="1784.0" cy="553.0" rx="12" ry="10"/><ellipse cx="1796.0" cy="553.0" rx="12" ry="10"/><ellipse cx="1808.0" cy="553.0" rx="12" ry="10"/><ellipse cx="1820.0" cy="553.0" rx="12" ry="10"/><ellipse cx="1832.0" cy="553.0" rx="12" ry="10"/><ellipse cx="1844.0" cy="553.0" rx="12" ry="10"/><ellipse cx="1856.0" cy="553.0" rx="12" ry="10"/><ellipse cx="1868.0" cy="553.0" rx="12" ry="10"/><ellipse cx="1880.0" cy="553.0" rx="12" ry="10"/><ellipse cx="1742.0" cy="562.0" rx="12" ry="10"/><ellipse cx="1754.0" cy="562.0" rx="12" ry="10"/><ellipse cx="1766.0" cy="562.0" rx="12" ry="10"/><ellipse cx="1778.0" cy="562.0" rx="12" ry="10"/><ellipse cx="1790.0" cy="562.0" rx="12" ry="10"/><ellipse cx="1802.0" cy="562.0" rx="12" ry="10"/><ellipse cx="1814.0" cy="562.0" rx="12" ry="10"/><ellipse cx="1826.0" cy="562.0" rx="12" ry="10"/><ellipse cx="1838.0" cy="562.0" rx="12" ry="10"/><ellipse cx="1850.0" cy="562.0" rx="12" ry="10"/><ellipse cx="1862.0" cy="562.0" rx="12" ry="10"/><ellipse cx="1874.0" cy="562.0" rx="12" ry="10"/><ellipse cx="1886.0" cy="562.0" rx="12" ry="10"/><ellipse cx="1760.0" cy="571.0" rx="12" ry="10"/><ellipse cx="1772.0" cy="571.0" rx="12" ry="10"/><ellipse cx="1784.0" cy="571.0" rx="12" ry="10"/><ellipse cx="1796.0" cy="571.0" rx="12" ry="10"/><ellipse cx="1808.0" cy="571.0" rx="12" ry="10"/><ellipse cx="1820.0" cy="571.0" rx="12" ry="10"/><ellipse cx="1832.0" cy="571.0" rx="12" ry="10"/><ellipse cx="1844.0" cy="571.0" rx="12" ry="10"/><ellipse cx="1856.0" cy="571.0" rx="12" ry="10"/><ellipse cx="1868.0" cy="571.0" rx="12" ry="10"/><ellipse cx="1880.0" cy="571.0" rx="12" ry="10"/><ellipse cx="1892.0" cy="571.0" rx="12" ry="10"/><ellipse cx="1754.0" cy="580.0" rx="12" ry="10"/><ellipse cx="1766.0" cy="580.0" rx="12" ry="10"/><ellipse cx="1778.0" cy="580.0" rx="12" ry="10"/><ellipse cx="1790.0" cy="580.0" rx="12" ry="10"/><ellipse cx="1802.0" cy="580.0" rx="12" ry="10"/><ellipse cx="1814.0" cy="580.0" rx="12" ry="10"/><ellipse cx="1826.0" cy="580.0" rx="12" ry="10"/><ellipse cx="1838.0" cy="580.0" rx="12" ry="10"/><ellipse cx="1850.0" cy="580.0" rx="12" ry="10"/><ellipse cx="1862.0" cy="580.0" rx="12" ry="10"/><ellipse cx="1874.0" cy="580.0" rx="12" ry="10"/><ellipse cx="1886.0" cy="580.0" rx="12" ry="10"/><ellipse cx="1760.0" cy="589.0" rx="12" ry="10"/><ellipse cx="1772.0" cy="589.0" rx="12" ry="10"/><ellipse cx="1784.0" cy="589.0" rx="12" ry="10"/><ellipse cx="1796.0" cy="589.0" rx="12" ry="10"/><ellipse cx="1808.0" cy="589.0" rx="12" ry="10"/><ellipse cx="1820.0" cy="589.0" rx="12" ry="10"/><ellipse cx="1832.0" cy="589.0" rx="12" ry="10"/><ellipse cx="1844.0" cy="589.0" rx="12" ry="10"/><ellipse cx="1856.0" cy="589.0" rx="12" ry="10"/><ellipse cx="1868.0" cy="589.0" rx="12" ry="10"/><ellipse cx="1880.0" cy="589.0" rx="12" ry="10"/><ellipse cx="1892.0" cy="589.0" rx="12" ry="10"/><ellipse cx="1754.0" cy="598.0" rx="12" ry="10"/><ellipse cx="1766.0" cy="598.0" rx="12" ry="10"/><ellipse cx="1778.0" cy="598.0" rx="12" ry="10"/><ellipse cx="1790.0" cy="598.0" rx="12" ry="10"/><ellipse cx="1802.0" cy="598.0" rx="12" ry="10"/><ellipse cx="1814.0" cy="598.0" rx="12" ry="10"/><ellipse cx="1826.0" cy="598.0" rx="12" ry="10"/><ellipse cx="1838.0" cy="598.0" rx="12" ry="10"/><ellipse cx="1850.0" cy="598.0" rx="12" ry="10"/><ellipse cx="1862.0" cy="598.0" rx="12" ry="10"/><ellipse cx="1874.0" cy="598.0" rx="12" ry="10"/><ellipse cx="1886.0" cy="598.0" rx="12" ry="10"/><ellipse cx="1748.0" cy="607.0" rx="12" ry="10"/><ellipse cx="1760.0" cy="607.0" rx="12" ry="10"/><ellipse cx="1772.0" cy="607.0" rx="12" ry="10"/><ellipse cx="1784.0" cy="607.0" rx="12" ry="10"/><ellipse cx="1796.0" cy="607.0" rx="12" ry="10"/><ellipse cx="1808.0" cy="607.0" rx="12" ry="10"/><ellipse cx="1820.0" cy="607.0" rx="12" ry="10"/><ellipse cx="1832.0" cy="607.0" rx="12" ry="10"/><ellipse cx="1844.0" cy="607.0" rx="12" ry="10"/><ellipse cx="1856.0" cy="607.0" rx="12" ry="10"/><ellipse cx="1868.0" cy="607.0" rx="12" ry="10"/><ellipse cx="1880.0" cy="607.0" rx="12" ry="10"/><ellipse cx="1892.0" cy="607.0" rx="12" ry="10"/><ellipse cx="1754.0" cy="616.0" rx="12" ry="10"/><ellipse cx="1766.0" cy="616.0" rx="12" ry="10"/><ellipse cx="1778.0" cy="616.0" rx="12" ry="10"/><ellipse cx="1790.0" cy="616.0" rx="12" ry="10"/><ellipse cx="1802.0" cy="616.0" rx="12" ry="10"/><ellipse cx="1814.0" cy="616.0" rx="12" ry="10"/><ellipse cx="1826.0" cy="616.0" rx="12" ry="10"/><ellipse cx="1838.0" cy="616.0" rx="12" ry="10"/><ellipse cx="1850.0" cy="616.0" rx="12" ry="10"/><ellipse cx="1862.0" cy="616.0" rx="12" ry="10"/><ellipse cx="1874.0" cy="616.0" rx="12" ry="10"/><ellipse cx="1886.0" cy="616.0" rx="12" ry="10"/><ellipse cx="1898.0" cy="616.0" rx="12" ry="10"/><ellipse cx="1760.0" cy="625.0" rx="12" ry="10"/><ellipse cx="1772.0" cy="625.0" rx="12" ry="10"/><ellipse cx="1784.0" cy="625.0" rx="12" ry="10"/><ellipse cx="1796.0" cy="625.0" rx="12" ry="10"/><ellipse cx="1808.0" cy="625.0" rx="12" ry="10"/><ellipse cx="1820.0" cy="625.0" rx="12" ry="10"/><ellipse cx="1832.0" cy="625.0" rx="12" ry="10"/><ellipse cx="1844.0" cy="625.0" rx="12" ry="10"/><ellipse cx="1856.0" cy="625.0" rx="12" ry="10"/><ellipse cx="1868.0" cy="625.0" rx="12" ry="10"/><ellipse cx="1880.0" cy="625.0" rx="12" ry="10"/><ellipse cx="1892.0" cy="625.0" rx="12" ry="10"/><ellipse cx="1754.0" cy="634.0" rx="12" ry="10"/><ellipse cx="1766.0" cy="634.0" rx="12" ry="10"/><ellipse cx="1778.0" cy="634.0" rx="12" ry="10"/><ellipse cx="1790.0" cy="634.0" rx="12" ry="10"/><ellipse cx="1802.0" cy="634.0" rx="12" ry="10"/><ellipse cx="1814.0" cy="634.0" rx="12" ry="10"/><ellipse cx="1826.0" cy="634.0" rx="12" ry="10"/><ellipse cx="1838.0" cy="634.0" rx="12" ry="10"/><ellipse cx="1850.0" cy="634.0" rx="12" ry="10"/><ellipse cx="1862.0" cy="634.0" rx="12" ry="10"/><ellipse cx="1874.0" cy="634.0" rx="12" ry="10"/><ellipse cx="1886.0" cy="634.0" rx="12" ry="10"/><ellipse cx="1898.0" cy="634.0" rx="12" ry="10"/><ellipse cx="1760.0" cy="643.0" rx="12" ry="10"/><ellipse cx="1772.0" cy="643.0" rx="12" ry="10"/><ellipse cx="1784.0" cy="643.0" rx="12" ry="10"/><ellipse cx="1796.0" cy="643.0" rx="12" ry="10"/><ellipse cx="1808.0" cy="643.0" rx="12" ry="10"/><ellipse cx="1820.0" cy="643.0" rx="12" ry="10"/><ellipse cx="1832.0" cy="643.0" rx="12" ry="10"/><ellipse cx="1844.0" cy="643.0" rx="12" ry="10"/><ellipse cx="1856.0" cy="643.0" rx="12" ry="10"/><ellipse cx="1868.0" cy="643.0" rx="12" ry="10"/><ellipse cx="1880.0" cy="643.0" rx="12" ry="10"/><ellipse cx="1892.0" cy="643.0" rx="12" ry="10"/><ellipse cx="1754.0" cy="652.0" rx="12" ry="10"/><ellipse cx="1766.0" cy="652.0" rx="12" ry="10"/><ellipse cx="1778.0" cy="652.0" rx="12" ry="10"/><ellipse cx="1790.0" cy="652.0" rx="12" ry="10"/><ellipse cx="1802.0" cy="652.0" rx="12" ry="10"/><ellipse cx="1814.0" cy="652.0" rx="12" ry="10"/><ellipse cx="1826.0" cy="652.0" rx="12" ry="10"/><ellipse cx="1838.0" cy="652.0" rx="12" ry="10"/><ellipse cx="1850.0" cy="652.0" rx="12" ry="10"/><ellipse cx="1862.0" cy="652.0" rx="12" ry="10"/><ellipse cx="1874.0" cy="652.0" rx="12" ry="10"/><ellipse cx="1886.0" cy="652.0" rx="12" ry="10"/><ellipse cx="1760.0" cy="661.0" rx="12" ry="10"/><ellipse cx="1772.0" cy="661.0" rx="12" ry="10"/><ellipse cx="1784.0" cy="661.0" rx="12" ry="10"/><ellipse cx="1796.0" cy="661.0" rx="12" ry="10"/><ellipse cx="1808.0" cy="661.0" rx="12" ry="10"/><ellipse cx="1820.0" cy="661.0" rx="12" ry="10"/><ellipse cx="1832.0" cy="661.0" rx="12" ry="10"/><ellipse cx="1844.0" cy="661.0" rx="12" ry="10"/><ellipse cx="1856.0" cy="661.0" rx="12" ry="10"/><ellipse cx="1868.0" cy="661.0" rx="12" ry="10"/><ellipse cx="1880.0" cy="661.0" rx="12" ry="10"/><ellipse cx="1892.0" cy="661.0" rx="12" ry="10"/><ellipse cx="1778.0" cy="670.0" rx="12" ry="10"/><ellipse cx="1790.0" cy="670.0" rx="12" ry="10"/><ellipse cx="1802.0" cy="670.0" rx="12" ry="10"/><ellipse cx="1814.0" cy="670.0" rx="12" ry="10"/><ellipse cx="1826.0" cy="670.0" rx="12" ry="10"/><ellipse cx="1838.0" cy="670.0" rx="12" ry="10"/><ellipse cx="1850.0" cy="670.0" rx="12" ry="10"/><ellipse cx="1862.0" cy="670.0" rx="12" ry="10"/><ellipse cx="1874.0" cy="670.0" rx="12" ry="10"/><ellipse cx="1886.0" cy="670.0" rx="12" ry="10"/><ellipse cx="1796.0" cy="679.0" rx="12" ry="10"/><ellipse cx="1808.0" cy="679.0" rx="12" ry="10"/><ellipse cx="1820.0" cy="679.0" rx="12" ry="10"/><ellipse cx="1832.0" cy="679.0" rx="12" ry="10"/><ellipse cx="1844.0" cy="679.0" rx="12" ry="10"/><ellipse cx="1856.0" cy="679.0" rx="12" ry="10"/><ellipse cx="1868.0" cy="679.0" rx="12" ry="10"/><ellipse cx="1880.0" cy="679.0" rx="12" ry="10"/><ellipse cx="1790.0" cy="688.0" rx="12" ry="10"/><ellipse cx="1802.0" cy="688.0" rx="12" ry="10"/><ellipse cx="1814.0" cy="688.0" rx="12" ry="10"/><ellipse cx="1826.0" cy="688.0" rx="12" ry="10"/><ellipse cx="1838.0" cy="688.0" rx="12" ry="10"/><ellipse cx="1850.0" cy="688.0" rx="12" ry="10"/><ellipse cx="1862.0" cy="688.0" rx="12" ry="10"/><ellipse cx="1874.0" cy="688.0" rx="12" ry="10"/><ellipse cx="1886.0" cy="688.0" rx="12" ry="10"/><ellipse cx="1784.0" cy="697.0" rx="12" ry="10"/><ellipse cx="1796.0" cy="697.0" rx="12" ry="10"/><ellipse cx="1808.0" cy="697.0" rx="12" ry="10"/><ellipse cx="1820.0" cy="697.0" rx="12" ry="10"/><ellipse cx="1832.0" cy="697.0" rx="12" ry="10"/><ellipse cx="1844.0" cy="697.0" rx="12" ry="10"/><ellipse cx="1856.0" cy="697.0" rx="12" ry="10"/><ellipse cx="1868.0" cy="697.0" rx="12" ry="10"/><ellipse cx="1880.0" cy="697.0" rx="12" ry="10"/><ellipse cx="1790.0" cy="706.0" rx="12" ry="10"/><ellipse cx="1802.0" cy="706.0" rx="12" ry="10"/><ellipse cx="1814.0" cy="706.0" rx="12" ry="10"/><ellipse cx="1826.0" cy="706.0" rx="12" ry="10"/><ellipse cx="1838.0" cy="706.0" rx="12" ry="10"/><ellipse cx="1850.0" cy="706.0" rx="12" ry="10"/><ellipse cx="1862.0" cy="706.0" rx="12" ry="10"/><ellipse cx="1874.0" cy="706.0" rx="12" ry="10"/><ellipse cx="1886.0" cy="706.0" rx="12" ry="10"/><ellipse cx="1784.0" cy="715.0" rx="12" ry="10"/><ellipse cx="1796.0" cy="715.0" rx="12" ry="10"/><ellipse cx="1808.0" cy="715.0" rx="12" ry="10"/><ellipse cx="1820.0" cy="715.0" rx="12" ry="10"/><ellipse cx="1832.0" cy="715.0" rx="12" ry="10"/><ellipse cx="1844.0" cy="715.0" rx="12" ry="10"/><ellipse cx="1856.0" cy="715.0" rx="12" ry="10"/><ellipse cx="1868.0" cy="715.0" rx="12" ry="10"/><ellipse cx="1880.0" cy="715.0" rx="12" ry="10"/><ellipse cx="1892.0" cy="715.0" rx="12" ry="10"/><ellipse cx="1778.0" cy="724.0" rx="12" ry="10"/><ellipse cx="1790.0" cy="724.0" rx="12" ry="10"/><ellipse cx="1802.0" cy="724.0" rx="12" ry="10"/><ellipse cx="1814.0" cy="724.0" rx="12" ry="10"/><ellipse cx="1826.0" cy="724.0" rx="12" ry="10"/><ellipse cx="1838.0" cy="724.0" rx="12" ry="10"/><ellipse cx="1850.0" cy="724.0" rx="12" ry="10"/><ellipse cx="1862.0" cy="724.0" rx="12" ry="10"/><ellipse cx="1874.0" cy="724.0" rx="12" ry="10"/><ellipse cx="1886.0" cy="724.0" rx="12" ry="10"/><ellipse cx="1898.0" cy="724.0" rx="12" ry="10"/><ellipse cx="1784.0" cy="733.0" rx="12" ry="10"/><ellipse cx="1796.0" cy="733.0" rx="12" ry="10"/><ellipse cx="1808.0" cy="733.0" rx="12" ry="10"/><ellipse cx="1820.0" cy="733.0" rx="12" ry="10"/><ellipse cx="1832.0" cy="733.0" rx="12" ry="10"/><ellipse cx="1844.0" cy="733.0" rx="12" ry="10"/><ellipse cx="1856.0" cy="733.0" rx="12" ry="10"/><ellipse cx="1868.0" cy="733.0" rx="12" ry="10"/><ellipse cx="1880.0" cy="733.0" rx="12" ry="10"/><ellipse cx="1892.0" cy="733.0" rx="12" ry="10"/><ellipse cx="1814.0" cy="742.0" rx="12" ry="10"/><ellipse cx="1826.0" cy="742.0" rx="12" ry="10"/><ellipse cx="1838.0" cy="742.0" rx="12" ry="10"/><ellipse cx="1850.0" cy="742.0" rx="12" ry="10"/><ellipse cx="1862.0" cy="742.0" rx="12" ry="10"/><ellipse cx="1874.0" cy="742.0" rx="12" ry="10"/><ellipse cx="1886.0" cy="742.0" rx="12" ry="10"/><ellipse cx="1787.6" cy="371.0" rx="12" ry="10"/><ellipse cx="1789.8" cy="380.5" rx="12" ry="10"/><ellipse cx="1792.0" cy="390.0" rx="12" ry="10"/><ellipse cx="1803.2" cy="392.6" rx="12" ry="10"/><ellipse cx="1814.5" cy="395.3" rx="12" ry="10"/><ellipse cx="1825.0" cy="399.5" rx="12" ry="10"/><ellipse cx="1835.5" cy="403.8" rx="12" ry="10"/><ellipse cx="1846.0" cy="408.0" rx="12" ry="10"/><ellipse cx="1847.0" cy="417.0" rx="12" ry="10"/><ellipse cx="1848.0" cy="426.0" rx="12" ry="10"/><ellipse cx="1855.3" cy="432.7" rx="12" ry="10"/><ellipse cx="1862.7" cy="439.3" rx="12" ry="10"/><ellipse cx="1870.0" cy="446.0" rx="12" ry="10"/><ellipse cx="1878.0" cy="461.0" rx="12" ry="10"/><ellipse cx="1882.0" cy="476.0" rx="12" ry="10"/><ellipse cx="1882.0" cy="485.3" rx="12" ry="10"/><ellipse cx="1882.0" cy="494.7" rx="12" ry="10"/><ellipse cx="1882.0" cy="504.0" rx="12" ry="10"/><ellipse cx="1887.0" cy="513.0" rx="12" ry="10"/><ellipse cx="1876.0" cy="524.0" rx="12" ry="10"/><ellipse cx="1877.5" cy="536.0" rx="12" ry="10"/><ellipse cx="1879.0" cy="548.0" rx="12" ry="10"/><ellipse cx="1894.0" cy="555.0" rx="12" ry="10"/><ellipse cx="1894.0" cy="567.0" rx="12" ry="10"/><ellipse cx="1890.0" cy="583.0" rx="12" ry="10"/><ellipse cx="1895.0" cy="597.0" rx="12" ry="10"/><ellipse cx="1897.5" cy="606.0" rx="12" ry="10"/><ellipse cx="1900.0" cy="615.0" rx="12" ry="10"/><ellipse cx="1899.0" cy="625.7" rx="12" ry="10"/><ellipse cx="1898.0" cy="636.3" rx="12" ry="10"/><ellipse cx="1897.0" cy="647.0" rx="12" ry="10"/><ellipse cx="1894.3" cy="658.0" rx="12" ry="10"/><ellipse cx="1891.7" cy="669.0" rx="12" ry="10"/><ellipse cx="1889.0" cy="680.0" rx="12" ry="10"/><ellipse cx="1890.0" cy="690.5" rx="12" ry="10"/><ellipse cx="1891.0" cy="701.0" rx="12" ry="10"/><ellipse cx="1896.5" cy="710.5" rx="12" ry="10"/><ellipse cx="1902.0" cy="720.0" rx="12" ry="10"/><ellipse cx="1900.0" cy="732.0" rx="12" ry="10"/><ellipse cx="1892.5" cy="738.5" rx="12" ry="10"/><ellipse cx="1885.0" cy="745.0" rx="12" ry="10"/><ellipse cx="1875.0" cy="747.5" rx="12" ry="10"/><ellipse cx="1865.0" cy="750.0" rx="12" ry="10"/><ellipse cx="1852.5" cy="749.0" rx="12" ry="10"/><ellipse cx="1840.0" cy="748.0" rx="12" ry="10"/><ellipse cx="1830.0" cy="746.3" rx="12" ry="10"/><ellipse cx="1820.0" cy="744.7" rx="12" ry="10"/><ellipse cx="1810.0" cy="743.0" rx="12" ry="10"/><ellipse cx="1799.7" cy="741.7" rx="12" ry="10"/><ellipse cx="1789.3" cy="740.3" rx="12" ry="10"/><ellipse cx="1779.0" cy="739.0" rx="12" ry="10"/><ellipse cx="1778.3" cy="729.7" rx="12" ry="10"/><ellipse cx="1777.7" cy="720.3" rx="12" ry="10"/><ellipse cx="1777.0" cy="711.0" rx="12" ry="10"/><ellipse cx="1781.0" cy="701.0" rx="12" ry="10"/><ellipse cx="1785.0" cy="691.0" rx="12" ry="10"/><ellipse cx="1787.0" cy="674.0" rx="12" ry="10"/><ellipse cx="1774.5" cy="669.5" rx="12" ry="10"/><ellipse cx="1762.0" cy="665.0" rx="12" ry="10"/><ellipse cx="1756.0" cy="657.5" rx="12" ry="10"/><ellipse cx="1750.0" cy="650.0" rx="12" ry="10"/><ellipse cx="1749.3" cy="639.5" rx="12" ry="10"/><ellipse cx="1748.6" cy="629.0" rx="12" ry="10"/><ellipse cx="1747.0" cy="613.0" rx="12" ry="10"/><ellipse cx="1748.5" cy="603.5" rx="12" ry="10"/><ellipse cx="1750.0" cy="594.0" rx="12" ry="10"/><ellipse cx="1752.0" cy="584.5" rx="12" ry="10"/><ellipse cx="1754.0" cy="575.0" rx="12" ry="10"/><ellipse cx="1747.2" cy="568.5" rx="12" ry="10"/><ellipse cx="1740.5" cy="562.0" rx="12" ry="10"/><ellipse cx="1740.5" cy="548.0" rx="12" ry="10"/><ellipse cx="1738.0" cy="532.0" rx="12" ry="10"/><ellipse cx="1742.0" cy="521.5" rx="12" ry="10"/><ellipse cx="1746.0" cy="511.0" rx="12" ry="10"/><ellipse cx="1740.5" cy="494.5" rx="12" ry="10"/><ellipse cx="1743.0" cy="481.0" rx="12" ry="10"/><ellipse cx="1744.6" cy="467.6" rx="12" ry="10"/><ellipse cx="1747.3" cy="458.3" rx="12" ry="10"/><ellipse cx="1750.0" cy="449.0" rx="12" ry="10"/><ellipse cx="1746.0" cy="440.8" rx="12" ry="10"/><ellipse cx="1742.0" cy="432.6" rx="12" ry="10"/><ellipse cx="1744.0" cy="423.3" rx="12" ry="10"/><ellipse cx="1746.0" cy="414.0" rx="12" ry="10"/><ellipse cx="1751.3" cy="406.3" rx="12" ry="10"/><ellipse cx="1756.7" cy="398.7" rx="12" ry="10"/><ellipse cx="1762.0" cy="391.0" rx="12" ry="10"/><ellipse cx="1769.0" cy="381.5" rx="12" ry="10"/><ellipse cx="1778.3" cy="376.2" rx="12" ry="10"/></g>
<g fill="#e8490f"><ellipse cx="1589.9" cy="151.9" rx="12" ry="10"/><ellipse cx="1664.9" cy="168.3" rx="12" ry="10"/><ellipse cx="1647.8" cy="305.8" rx="12" ry="10"/><ellipse cx="1597.8" cy="340.7" rx="12" ry="10"/><ellipse cx="1595.0" cy="491.5" rx="12" ry="10"/><ellipse cx="1844.0" cy="844.0" rx="12" ry="10"/><ellipse cx="1715.8" cy="509.4" rx="12" ry="10"/><ellipse cx="1832.2" cy="737.3" rx="12" ry="10"/></g>
<g fill="#27cb48"><ellipse cx="1717.5" cy="521.5" rx="12" ry="10"/></g>
<g fill="#5862e6"><ellipse cx="1788.9" cy="379.3" rx="12" ry="10"/><ellipse cx="1810.7" cy="407.6" rx="12" ry="10"/><ellipse cx="1826.8" cy="408.2" rx="12" ry="10"/><ellipse cx="1837.7" cy="434.2" rx="12" ry="10"/><ellipse cx="1819.8" cy="455.5" rx="12" ry="10"/><ellipse cx="1836.4" cy="465.0" rx="12" ry="10"/><ellipse cx="1804.4" cy="477.1" rx="12" ry="10"/><ellipse cx="1826.8" cy="484.8" rx="12" ry="10"/><ellipse cx="1808.2" cy="493.3" rx="12" ry="10"/><ellipse cx="1850.0" cy="501.1" rx="12" ry="10"/><ellipse cx="1769.5" cy="504.5" rx="12" ry="10"/><ellipse cx="1816.0" cy="507.3" rx="12" ry="10"/><ellipse cx="1822.2" cy="518.1" rx="12" ry="10"/><ellipse cx="1796.6" cy="525.1" rx="12" ry="10"/><ellipse cx="1800.5" cy="539.8" rx="12" ry="10"/><ellipse cx="1834.6" cy="542.9" rx="12" ry="10"/><ellipse cx="1819.1" cy="550.6" rx="12" ry="10"/><ellipse cx="1759.0" cy="550.6" rx="12" ry="10"/><ellipse cx="1786.6" cy="555.3" rx="12" ry="10"/><ellipse cx="1775.7" cy="569.2" rx="12" ry="10"/><ellipse cx="1836.1" cy="564.6" rx="12" ry="10"/><ellipse cx="1820.6" cy="573.8" rx="12" ry="10"/><ellipse cx="1798.2" cy="581.6" rx="12" ry="10"/><ellipse cx="1858.5" cy="576.9" rx="12" ry="10"/><ellipse cx="1837.6" cy="587.8" rx="12" ry="10"/><ellipse cx="1758.7" cy="589.3" rx="12" ry="10"/><ellipse cx="1747.9" cy="600.9" rx="12" ry="10"/><ellipse cx="1877.9" cy="590.1" rx="12" ry="10"/><ellipse cx="1859.3" cy="597.1" rx="12" ry="10"/><ellipse cx="1896.5" cy="601.7" rx="12" ry="10"/><ellipse cx="1823.7" cy="604.8" rx="12" ry="10"/><ellipse cx="1802.0" cy="609.4" rx="12" ry="10"/><ellipse cx="1714.8" cy="596.6" rx="12" ry="10"/><ellipse cx="1772.6" cy="618.6" rx="12" ry="10"/><ellipse cx="1800.5" cy="609.3" rx="12" ry="10"/><ellipse cx="1825.3" cy="609.3" rx="12" ry="10"/><ellipse cx="1846.9" cy="612.4" rx="12" ry="10"/><ellipse cx="1867.1" cy="613.9" rx="12" ry="10"/><ellipse cx="1797.4" cy="623.2" rx="12" ry="10"/><ellipse cx="1851.6" cy="631.0" rx="12" ry="10"/><ellipse cx="1806.7" cy="638.7" rx="12" ry="10"/><ellipse cx="1851.6" cy="641.0" rx="12" ry="10"/><ellipse cx="1825.3" cy="646.4" rx="12" ry="10"/><ellipse cx="1803.6" cy="652.6" rx="12" ry="10"/><ellipse cx="1871.7" cy="656.0" rx="12" ry="10"/><ellipse cx="1802.0" cy="663.5" rx="12" ry="10"/><ellipse cx="1806.7" cy="668.1" rx="12" ry="10"/><ellipse cx="1834.6" cy="671.2" rx="12" ry="10"/><ellipse cx="1853.1" cy="672.8" rx="12" ry="10"/><ellipse cx="1839.2" cy="677.4" rx="12" ry="10"/><ellipse cx="1874.8" cy="696.7" rx="12" ry="10"/><ellipse cx="1808.2" cy="699.1" rx="12" ry="10"/><ellipse cx="1797.4" cy="708.4" rx="12" ry="10"/><ellipse cx="1816.0" cy="703.7" rx="12" ry="10"/><ellipse cx="1851.6" cy="706.8" rx="12" ry="10"/><ellipse cx="1837.6" cy="711.5" rx="12" ry="10"/><ellipse cx="1857.8" cy="719.2" rx="12" ry="10"/><ellipse cx="1829.9" cy="726.9" rx="12" ry="10"/><ellipse cx="1848.5" cy="753.3" rx="12" ry="10"/><ellipse cx="1876.0" cy="870.3" rx="12" ry="10"/><ellipse cx="1803.5" cy="476.4" rx="12" ry="10"/><ellipse cx="1827.1" cy="484.2" rx="12" ry="10"/><ellipse cx="1806.7" cy="492.1" rx="12" ry="10"/><ellipse cx="1849.2" cy="500.7" rx="12" ry="10"/><ellipse cx="1817.7" cy="504.7" rx="12" ry="10"/><ellipse cx="1797.3" cy="523.5" rx="12" ry="10"/><ellipse cx="1820.8" cy="517.3" rx="12" ry="10"/><ellipse cx="1803.7" cy="477.0" rx="12" ry="10"/><ellipse cx="1809.1" cy="491.8" rx="12" ry="10"/><ellipse cx="1826.6" cy="485.1" rx="12" ry="10"/><ellipse cx="1825.2" cy="499.9" rx="12" ry="10"/><ellipse cx="1849.4" cy="501.2" rx="12" ry="10"/><ellipse cx="1814.5" cy="505.2" rx="12" ry="10"/><ellipse cx="1821.2" cy="518.7" rx="12" ry="10"/><ellipse cx="1836.0" cy="505.2" rx="12" ry="10"/><ellipse cx="1815.0" cy="482.0" rx="12" ry="10"/><ellipse cx="1838.0" cy="495.0" rx="12" ry="10"/><ellipse cx="1816.0" cy="497.0" rx="12" ry="10"/><ellipse cx="1797.0" cy="525.4" rx="12" ry="10"/><ellipse cx="1801.0" cy="538.9" rx="12" ry="10"/><ellipse cx="1833.3" cy="542.9" rx="12" ry="10"/><ellipse cx="1817.2" cy="548.3" rx="12" ry="10"/><ellipse cx="1787.6" cy="553.6" rx="12" ry="10"/><ellipse cx="1830.6" cy="561.7" rx="12" ry="10"/><ellipse cx="1819.9" cy="569.8" rx="12" ry="10"/><ellipse cx="1836.0" cy="567.1" rx="12" ry="10"/><ellipse cx="1857.5" cy="577.9" rx="12" ry="10"/><ellipse cx="1841.4" cy="583.2" rx="12" ry="10"/><ellipse cx="1876.3" cy="590.0" rx="12" ry="10"/><ellipse cx="1862.9" cy="594.0" rx="12" ry="10"/><ellipse cx="1852.1" cy="602.0" rx="12" ry="10"/><ellipse cx="1868.3" cy="607.4" rx="12" ry="10"/><ellipse cx="1846.8" cy="618.2" rx="12" ry="10"/><ellipse cx="1825.2" cy="604.7" rx="12" ry="10"/><ellipse cx="1801.0" cy="607.4" rx="12" ry="10"/><ellipse cx="1772.8" cy="618.2" rx="12" ry="10"/><ellipse cx="1787.6" cy="615.5" rx="12" ry="10"/><ellipse cx="1811.8" cy="623.6" rx="12" ry="10"/><ellipse cx="1830.6" cy="629.0" rx="12" ry="10"/><ellipse cx="1852.0" cy="629.0" rx="12" ry="10"/><ellipse cx="1803.7" cy="631.7" rx="12" ry="10"/><ellipse cx="1808.0" cy="535.0" rx="12" ry="10"/><ellipse cx="1822.0" cy="540.0" rx="12" ry="10"/><ellipse cx="1810.0" cy="555.0" rx="12" ry="10"/><ellipse cx="1825.0" cy="555.0" rx="12" ry="10"/><ellipse cx="1845.0" cy="572.0" rx="12" ry="10"/><ellipse cx="1832.0" cy="575.0" rx="12" ry="10"/><ellipse cx="1850.0" cy="590.0" rx="12" ry="10"/><ellipse cx="1838.0" cy="598.0" rx="12" ry="10"/><ellipse cx="1860.0" cy="600.0" rx="12" ry="10"/><ellipse cx="1812.0" cy="614.0" rx="12" ry="10"/><ellipse cx="1838.0" cy="612.0" rx="12" ry="10"/><ellipse cx="1828.0" cy="618.0" rx="12" ry="10"/><ellipse cx="1790.0" cy="620.0" rx="12" ry="10"/><ellipse cx="1776.0" cy="569.3" rx="12" ry="10"/><ellipse cx="1798.3" cy="581.4" rx="12" ry="10"/><ellipse cx="1758.0" cy="590.0" rx="12" ry="10"/><ellipse cx="1747.2" cy="600.7" rx="12" ry="10"/><ellipse cx="1714.4" cy="596.2" rx="12" ry="10"/><ellipse cx="1896.0" cy="601.5" rx="12" ry="10"/><ellipse cx="1758.8" cy="550.4" rx="12" ry="10"/><ellipse cx="1769.3" cy="504.7" rx="12" ry="10"/><ellipse cx="1786.0" cy="614.0" rx="12" ry="10"/><ellipse cx="1812.0" cy="606.0" rx="12" ry="10"/><ellipse cx="1836.0" cy="606.0" rx="12" ry="10"/><ellipse cx="1858.0" cy="612.0" rx="12" ry="10"/><ellipse cx="1808.0" cy="645.0" rx="12" ry="10"/><ellipse cx="1815.0" cy="655.0" rx="12" ry="10"/><ellipse cx="1845.0" cy="674.0" rx="12" ry="10"/><ellipse cx="1800.0" cy="704.0" rx="12" ry="10"/><ellipse cx="1828.0" cy="708.0" rx="12" ry="10"/><ellipse cx="1845.0" cy="712.0" rx="12" ry="10"/><ellipse cx="1842.0" cy="722.0" rx="12" ry="10"/></g>
<line x1="1617.4" y1="99.7" x2="1617.4" y2="912" stroke="#d01520" stroke-width="3" stroke-dasharray="11 10.09"/>
<line x1="1617.4" y1="106" x2="1617.4" y2="113" stroke="#d01520" stroke-width="3"/>
</g>
<g fill="none" stroke="#000" stroke-width="5">
<ellipse cx="1742.1" cy="509.4" rx="289.8" ry="444.1" stroke-width="4.5"/>
<ellipse cx="1319.7" cy="821.4" rx="53" ry="98.9"/>
<line x1="1290.9" y1="738.1" x2="1488" y2="296"/>
<line x1="1319" y1="921" x2="1709" y2="950.5"/>
</g>
</svg></body></html>
